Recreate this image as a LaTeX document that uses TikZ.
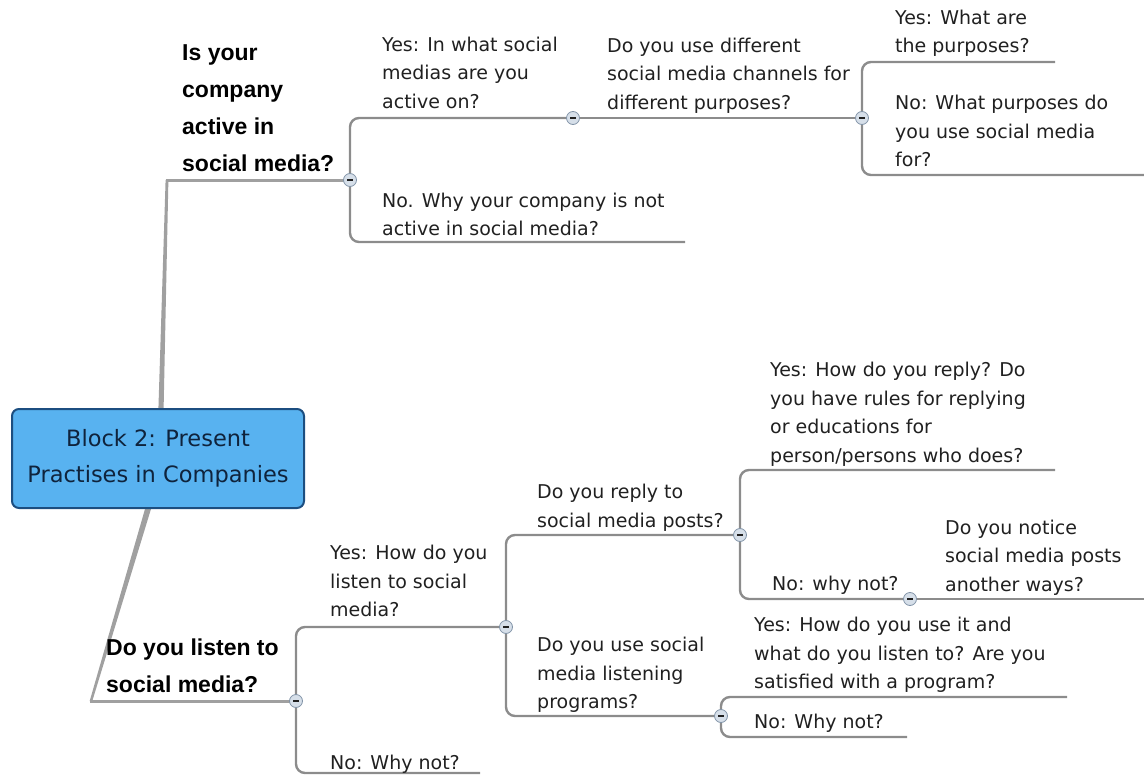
\documentclass[tikz,border=0pt]{standalone}
\usepackage{fontspec}
\setmainfont{DejaVu Sans}
\newfontfamily\headfont{Liberation Sans}
\pgfdeclarelayer{bg}
\pgfsetlayers{bg,main}
\definecolor{stemgray}{RGB}{160,160,160}
\definecolor{branchgray}{RGB}{140,140,140}
\definecolor{txt}{RGB}{32,32,32}
\definecolor{boxfill}{RGB}{88,178,240}
\definecolor{boxline}{RGB}{28,78,128}
\definecolor{boxtxt}{RGB}{15,35,60}
\definecolor{knobfill}{RGB}{214,223,233}
\definecolor{knobline}{RGB}{130,148,168}
\begin{document}
\begin{tikzpicture}[x=1pt,y=-1pt,
  lab/.style={anchor=base west, inner sep=0pt, align=left, text=txt,
    font=\fontsize{19}{28.5}\selectfont},
  head/.style={anchor=base west, inner sep=0pt, align=left, text=black,
    font=\headfont\bfseries\fontsize{23}{36.7}\selectfont},
  trunk/.style={draw=stemgray, line width=3pt},
  branch/.style={draw=branchgray, line width=2.4pt, rounded corners=9pt},
  knob/.style={circle, draw=knobline, line width=0.8pt, fill=knobfill,
    minimum size=13pt, inner sep=0pt,
    path picture={\draw[line width=1.4pt, txt]
      ([xshift=-3pt]path picture bounding box.center) --
      ([xshift=3pt]path picture bounding box.center);}}]
\useasboundingbox (0,0) rectangle (1144,776);

% central topic
\node[draw=boxline, fill=boxfill, rounded corners=7pt, line width=2pt,
  minimum width=292pt, minimum height=99pt, align=center, text=boxtxt,
  font=\fontsize{22.5}{36.5}\selectfont] (root) at (158,458.5)
  {Block 2: Present\\Practises in Companies};

% collapse buttons
\node[knob] (k1) at (350,180) {};
\node[knob] (k2) at (573,118) {};
\node[knob] (k3) at (862,118) {};
\node[knob] (kL) at (296,701) {};
\node[knob] (k4) at (506,627) {};
\node[knob] (k5) at (740,535) {};
\node[knob] (k6) at (910,599) {};
\node[knob] (k7) at (721,716) {};

% free ends of leaf branches
\coordinate (tj) at (167,180);
\coordinate (tb) at (161,409);
\coordinate (bj) at (91,701);
\coordinate (bb) at (148,509);
\coordinate (e1) at (685,242);
\coordinate (e2) at (1055,62);
\coordinate (e3) at (1144,175);
\coordinate (e4) at (480,773);
\coordinate (e5) at (1055,470);
\coordinate (e6) at (1144,599);
\coordinate (e7) at (1067,697);
\coordinate (e8) at (907,737);

% texts (placed by the baseline of their last line)
\node[head] (q1) at (182,171) {Is your\\company\\active in\\social media?};
\node[lab] (a1) at (382,108.5) {Yes: In what social\\medias are you\\active on?};
\node[lab] (a2) at (607,109.5) {Do you use different\\social media channels for\\different purposes?};
\node[lab] (a3) at (895,53) {Yes: What are\\the purposes?};
\node[lab] (a4) at (895,166.5) {No: What purposes do\\you use social media\\for?};
\node[lab] (a5) at (382,235.5) {No. Why your company is not\\active in social media?};

\node[head] (q2) at (106,692.5) {Do you listen to\\social media?};
\node[lab] (b1) at (330,616.5) {Yes: How do you\\listen to social\\media?};
\node[lab] (b2) at (330,769.5) {No: Why not?};
\node[lab] (b3) at (537,527) {Do you reply to\\social media posts?};
\node[lab] (b4) at (537,708.5) {Do you use social\\media listening\\programs?};
\node[lab] (b5) at (770,462) {Yes: How do you reply? Do\\you have rules for replying\\or educations for\\person/persons who does?};
\node[lab] (b6) at (772,590.5) {No: why not?};
\node[lab] (b7) at (945,591) {Do you notice\\social media posts\\another ways?};
\node[lab] (b8) at (754,688.5) {Yes: How do you use it and\\what do you listen to? Are you\\satisfied with a program?};
\node[lab] (b9) at (754,728.5) {No: Why not?};

\begin{pgfonlayer}{bg}
  % main trunks, tapering away from the central topic
  \fill[stemgray] ([xshift=-2.6pt]tb) -- ([xshift=2.6pt]tb)
    -- ([xshift=1.4pt]tj) -- ([xshift=-1.4pt]tj) -- cycle;
  \fill[stemgray] ([xshift=-3pt]bb) -- ([xshift=3pt]bb)
    -- ([xshift=1.3pt]bj) -- ([xshift=-1.3pt]bj) -- cycle;
  \draw[trunk] ([xshift=-1.4pt]tj) -- (k1.center);
  \draw[trunk] ([xshift=-1.3pt]bj) -- (kL.center);
  % upper subtree
  \draw[branch] (k1.center) |- (k2.center);
  \draw[branch] (k1.center) |- (e1);
  \draw[branch] (k2.center) -- (k3.center);
  \draw[branch] (k3.center) |- (e2);
  \draw[branch] (k3.center) |- (e3);
  % lower subtree
  \draw[branch] (kL.center) |- (k4.center);
  \draw[branch] (kL.center) |- (e4);
  \draw[branch] (k4.center) |- (k5.center);
  \draw[branch] (k4.center) |- (k7.center);
  \draw[branch] (k5.center) |- (e5);
  \draw[branch] (k5.center) |- (k6.center);
  \draw[branch] (k6.center) -- (e6);
  \draw[branch] (k7.center) |- (e7);
  \draw[branch] (k7.center) |- (e8);
\end{pgfonlayer}
\end{tikzpicture}
\end{document}
